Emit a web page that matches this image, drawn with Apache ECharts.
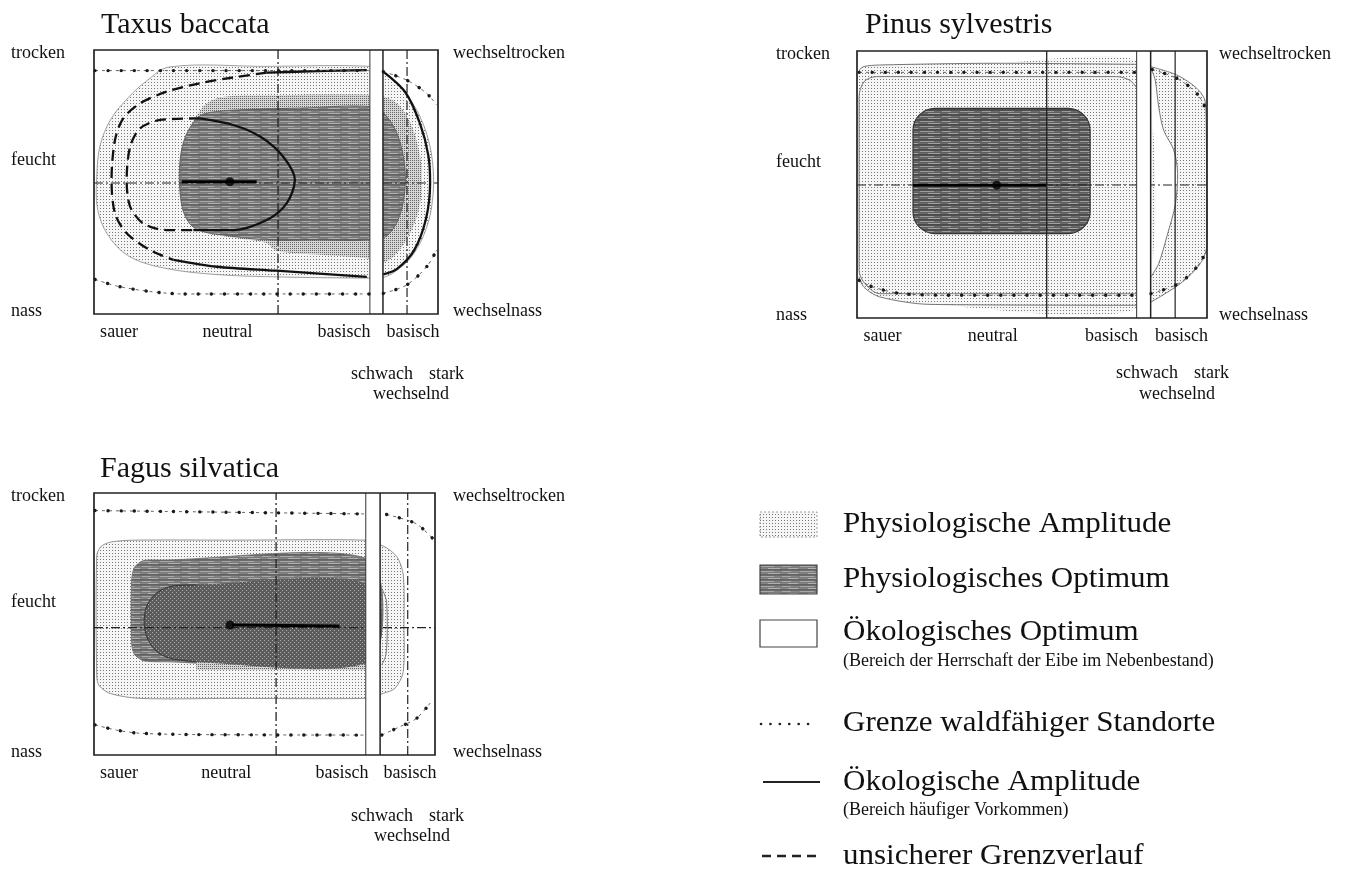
<!DOCTYPE html>
<html><head><meta charset="utf-8">
<script src="https://cdn.jsdelivr.net/npm/echarts@6/dist/echarts.min.js"></script>
<style>html,body{margin:0;padding:0;background:#fff}#c{width:1348px;height:871px}</style>
</head><body><div id="c"></div>
<script>
// ---------------- data (x: 0 sauer .. 100 stark wechselnd basisch, y: 0 nass .. 100 trocken) -------------
const titles = ['Taxus baccata', 'Pinus sylvestris', 'Fagus silvatica'];
const xTickPos = [7.3, 38.8, 72.7, 92.7];
const xTickLabels = ['sauer', 'neutral', 'basisch', 'basisch'];
const yTickPos = [98.6, 58.3, 1.1];
const yTickLabels = ['trocken', 'feucht', 'nass'];
const yRightPos = [98.6, 1.1];
const yRightLabels = ['wechseltrocken', 'wechselnass'];
const subLabels = ['schwach', 'stark', 'wechselnd'];

// structural lines per panel: [centre vertical, right vertical, horizontal, band from, band to]
const taxusAxes = [53.5, 91.0, 49.6, 80.2, 84.0];
const pinusAxes = [54.2, 90.9, 49.8, 79.9, 83.9];
const fagusAxes = [53.4, 92.0, 48.6, 79.7, 83.9];

// ---- Taxus baccata
const taxusAmplitude = [[22,93.6],[50,93.8],[81,93.8],[84,91.5],[89,86],[93.5,78],[97,67],[98.6,55],[98.4,43],[96.5,32],[92.5,22],[87.5,16],[84,13.8],[81,13.6],[55,14],[35,15],[20,17.5],[10,22],[4,30],[1,40],[0.8,52],[1.8,64],[5,74],[10,82],[15,88]];
const taxusMedium = [[30.3,76],[33,80],[38,82.3],[50,82.8],[81,83],[86,81.5],[90,77],[93,69],[95,58],[95.3,50],[94.5,40],[92,31],[88,23],[84,19.5],[80,21],[65,22.5],[53,24],[50,27],[40,29],[30,32.5],[26,45],[26,62],[28,71]];
const taxusOptimum = [[25,58],[26.5,67],[29.5,73.5],[32,75.8],[40,77.2],[60,78],[81,78.5],[85,75],[88.5,67],[90.4,55],[90.2,45],[88.5,36],[85,29.5],[80,28],[65,28],[51,28],[40,29.5],[30,32],[26.5,37],[25,46]];
const taxusEcoAmpTop = [[50.2,91.4],[65,92],[79.3,92.4]];
const taxusEcoAmpDash = [[50.2,91.4],[40.5,89.6],[30.8,87.4],[21.1,84.2],[13.4,79.8],[8.5,74.1],[6.1,65.9],[5.1,50.8],[6.1,38.1],[9.5,30.6],[16.3,24.2],[23.1,20.5]];
const taxusEcoAmpBottom = [[23.1,20.5],[35.7,17.9],[53.1,16.4],[79.3,14.1]];
const taxusEcoAmpRight = [[84.1,91.8],[90.5,84],[94.8,72],[97.2,60],[97.7,49.6],[96.5,36],[93,24],[88,17],[84.1,15]];
const taxusEcoOptDash = [[30.8,74.1],[19.2,73.5],[13.4,70.3],[10.5,63.4],[9.5,50.8],[10.5,40.7],[14.3,34.3],[21.1,31.8],[28.9,31.8]];
const taxusEcoOptSolid = [[30.8,74.1],[40.5,71.6],[48.3,67.2],[55,59.6],[58.4,50.8],[56,41.9],[50.2,35.6],[40.5,31.8],[28.9,31.8]];
const taxusLimitTop = [[0.3,92.2],[80,92.2]];
const taxusLimitTopRight = [[84.1,91.8],[90.9,88.6],[96.7,83.6],[99.6,79.2]];
const taxusLimitBottom = [[0.3,13.1],[6.6,10.6],[16.3,8.5],[26,7.6],[80,7.6]];
const taxusLimitBottomRight = [[84.1,7.8],[90.9,11],[96.7,17.9],[99.6,24.2]];
const taxusCentreBar = [[25.5,50.1],[47.3,50.1]];
const taxusCentre = [39.5, 50.1];

// ---- Pinus sylvestris
const pinusAmplitude = [[0.6,92.9],[2,94.2],[6.5,94.75],[40,95.4],[81,95],[81,4.75],[20.8,5.1],[6.5,7.9],[2,11.5],[0.6,15.4]];
const pinusAmplitudeRight = [[84,94.1],[91.4,91],[97.1,86],[99.5,81],[99.8,70.4],[100,27.9],[98.1,20.4],[92.4,12.9],[84,6],[84,15.4],[86.2,20.4],[88.5,30.4],[91,42.9],[91.6,54.1],[90.5,62.9],[87.6,70.4],[86.2,79.1],[85.2,89.1],[84,93.5]];
const pinusOuterTop = [[0.6,92.9],[2,94.2],[6.5,94.75],[40,95.4],[80,95]];
const pinusOuterBottom = [[0.6,15.4],[2,11.5],[6.5,7.9],[20.8,5.1],[80,4.75]];
const pinusInner = [[80,86],[78,89],[74.2,90.4],[40,90.4],[5.5,90.4],[2,88.5],[0.6,82.9],[0.6,17.9],[2.5,12.5],[6.5,9.1],[40,9.1],[80,9.1]];
const pinusOuterRight = [[84,94.1],[91.4,91],[97.1,86],[99.5,81],[99.8,70.4],[100,27.9],[98.1,20.4],[92.4,12.9],[84,6]];
const pinusWavy = [[84,93.5],[85.2,89.1],[86.2,79.1],[87.6,70.4],[90.5,62.9],[91.6,54.1],[91,42.9],[88.5,30.4],[86.2,20.4],[84,15.4]];
const pinusOptimum = [[16,78.5],[66.6,31.6]];
const pinusLimitTop = [[0.6,92],[80,92]];
const pinusLimitTopRight = [[84.3,93.1],[91.4,89.75],[97.1,84.1],[99.6,78.5]];
const pinusLimitBottom = [[0.6,14.1],[4.5,11.6],[13,9.1],[30,8.5],[80,8.5]];
const pinusLimitBottomRight = [[84,9.1],[91.9,12.9],[97.1,19.1],[99.8,24.75]];
const pinusCentreBar = [[16,49.75],[54,49.75]];
const pinusCentre = [39.9, 49.75];

// ---- Fagus silvatica
const fagusAmplitude = [[0.8,76],[2,79.5],[5,81.3],[12,82],[40,82],[79.7,82],[82,80.5],[84.8,79.8],[88.8,75.7],[90.7,68.7],[90.9,49.6],[90.7,31.8],[88.3,25.5],[84.8,23.5],[82,22.5],[79.7,21.6],[40,21.6],[13.5,21.6],[4.7,23.5],[1.5,26.5],[0.8,30]];
const fagusOptimum = [[11,66],[11.8,71.5],[14.5,74.2],[20,74.4],[81,74.4],[81,35.6],[20,35.6],[14.5,36],[11.8,38.5],[11,43]];
const fagusOptBand = [[30,35.6],[81,35.6],[81,32.4],[30,32.4]];
const fagusInner = [[14.7,50.9],[15.5,57],[18.5,62],[23,64.5],[27.2,64.9],[81,64.9],[81,35.6],[27.2,35.6],[22,37],[18,40],[15.5,45]];
const fagusInnerEdge = [[30,64.9],[23,64.5],[18.5,62],[15.5,57],[14.7,50.9],[15.5,45],[18,40],[22,37],[30,35.6]];
const fagusSmallRight = [[84.4,63.6],[85.8,58.5],[86,48.4],[85.6,38.2],[84.4,34.4]];
const fagusLimitTop = [[0.3,93.3],[80,92]];
const fagusLimitTopRight = [[85.8,91.8],[91.7,89.7],[95.1,87.8],[99.3,82.7]];
const fagusLimitBottom = [[0.3,11.5],[6.6,9.5],[13.5,8.3],[30,7.8],[80,7.6]];
const fagusLimitBottomRight = [[84.4,7.6],[89.7,10.8],[94.6,14],[99.3,21]];
const fagusCentreBar = [[40.5,49.6],[72,49.2]];
const fagusCentre = [39.9, 49.6];

// ---------------- layout & styles -------------
const GRIDS = [
  {left: 94, top: 50, width: 344, height: 264},
  {left: 857, top: 51, width: 350, height: 267},
  {left: 94, top: 493, width: 341, height: 262}
];
const LEFT_MARGIN = [83, 81, 83];
const RIGHT_MARGIN = [15, 12, 18];
const TITLE_POS = [[101, 10], [865, 10], [100, 454]];
const SUB_POS = [ // [schwachX, starkX, row1Y, wechselndX, row2Y]
  [351, 429, 375, 373, 395],
  [1116, 1194, 374, 1139, 395],
  [351, 429, 817, 374, 837]
];
const SERIF = '"Liberation Serif", "Times New Roman", serif';
const INK = '#111';

function pat(w, h, draw) {
  const c = document.createElement('canvas'); c.width = w; c.height = h;
  draw(c.getContext('2d')); return {image: c, repeat: 'repeat'};
}
const lightFill = pat(3, 3, g => { g.fillStyle = '#f6f6f6'; g.fillRect(0,0,3,3); g.fillStyle = '#767676'; g.fillRect(1,1,1,1); });
const mediumFill = pat(2, 2, g => { g.fillStyle = '#d6d6d6'; g.fillRect(0,0,2,2); g.fillStyle = '#666'; g.fillRect(0,0,1,1); });
function streaks(base, dark1, light1, mid, light2, dark2) {
  return pat(40, 5, g => {
    g.fillStyle = base; g.fillRect(0,0,40,5);
    g.fillStyle = dark1; g.fillRect(0,0,40,1);
    g.fillStyle = light1; g.fillRect(0,1,14,1); g.fillRect(22,1,9,1);
    g.fillStyle = mid; g.fillRect(0,2,40,1);
    g.fillStyle = light2; g.fillRect(8,3,12,1); g.fillRect(28,3,10,1);
    g.fillStyle = dark2; g.fillRect(0,4,40,1);
  });
}
const darkFill = streaks('#858585', '#6c6c6c', '#a8a8a8', '#7a7a7a', '#b0b0b0', '#626262');
const darkFill2 = streaks('#6c6c6c', '#505050', '#9c9c9c', '#5e5e5e', '#a2a2a2', '#4a4a4a');
const dottedDark = pat(4, 4, g => { g.fillStyle = '#5c5c5c'; g.fillRect(0,0,4,4); g.fillStyle = '#acacac'; g.fillRect(0,0,1,1); g.fillRect(2,2,1,1); });

const DASHDOT = [9, 3, 2, 3];
const series = [];

function poly(gi, pts, fill, stroke, lw, smooth, z) {
  series.push({type: 'custom', xAxisIndex: gi, yAxisIndex: gi * 2, coordinateSystem: 'cartesian2d',
    clip: true, silent: true, z: z, animation: false, data: pts,
    renderItem: function (params, api) {
      if (params.dataIndex !== 0) return;
      const points = pts.map(p => api.coord(p));
      return {type: 'polygon', shape: {points: points, smooth: smooth},
        style: {fill: fill, stroke: stroke || null, lineWidth: lw || 0}};
    }});
}
function roundRect(gi, pts, fill, stroke, lw, r, z) {
  series.push({type: 'custom', xAxisIndex: gi, yAxisIndex: gi * 2, coordinateSystem: 'cartesian2d',
    clip: true, silent: true, z: z, animation: false, data: pts,
    renderItem: function (params, api) {
      if (params.dataIndex !== 0) return;
      const a = api.coord(pts[0]), b = api.coord(pts[1]);
      return {type: 'rect', shape: {x: Math.min(a[0], b[0]), y: Math.min(a[1], b[1]), width: Math.abs(b[0] - a[0]), height: Math.abs(b[1] - a[1]), r: r},
        style: {fill: fill, stroke: stroke, lineWidth: lw}};
    }});
}
function line(gi, pts, ls, smooth, z) {
  series.push({type: 'line', xAxisIndex: gi, yAxisIndex: gi * 2, data: pts, smooth: smooth || false,
    symbol: 'none', silent: true, z: z, animation: false, clip: true,
    lineStyle: Object.assign({color: INK, width: 1}, ls)});
}
function limit(gi, pts, z) {
  line(gi, pts, {color: '#555', width: 0.9, type: [3, 4]}, 0.3, z);
  line(gi, pts, {color: '#1a1a1a', width: 3.4, type: [0.1, 13], cap: 'round'}, 0.3, z + 0.1);
}
function structure(gi, ax, vSolid) {
  const [cv, rv, h, b1, b2] = ax;
  line(gi, [[cv, 0], [cv, 100]], {color: '#222', width: 1.3, type: vSolid ? 'solid' : DASHDOT}, false, 6);
  line(gi, [[rv, 0], [rv, 100]], {color: '#222', width: 1.2, type: vSolid ? 'solid' : DASHDOT}, false, 6);
  line(gi, [[0, h], [100, h]], {color: '#222', width: 1.1, type: DASHDOT}, false, 6);
  series.push({type: 'custom', xAxisIndex: gi, yAxisIndex: gi * 2, coordinateSystem: 'cartesian2d',
    clip: true, silent: true, z: 8, animation: false, data: [[b1, 0], [b2, 100]],
    renderItem: function (params, api) {
      if (params.dataIndex !== 0) return;
      const a = api.coord([b1, 100]), b = api.coord([b2, 0]);
      return {type: 'group', children: [
        {type: 'rect', shape: {x: a[0], y: a[1], width: b[0] - a[0], height: b[1] - a[1]}, style: {fill: '#fff'}},
        {type: 'line', shape: {x1: a[0], y1: a[1], x2: a[0], y2: b[1]}, style: {stroke: '#333', lineWidth: 1}},
        {type: 'line', shape: {x1: b[0], y1: a[1], x2: b[0], y2: b[1]}, style: {stroke: '#222', lineWidth: 1.5}}
      ]};
    }});
  series.push({type: 'custom', xAxisIndex: gi, yAxisIndex: gi * 2, coordinateSystem: 'cartesian2d',
    clip: false, silent: true, z: 12, animation: false, data: [[0, 0], [100, 100]],
    renderItem: function (params, api) {
      if (params.dataIndex !== 0) return;
      const a = api.coord([0, 100]), b = api.coord([100, 0]);
      return {type: 'rect', shape: {x: a[0], y: a[1], width: b[0] - a[0], height: b[1] - a[1]}, style: {fill: null, stroke: '#222', lineWidth: 1.7}};
    }});
}
function centre(gi, bar, pt) {
  line(gi, bar, {color: '#000', width: 3}, false, 10);
  series.push({type: 'scatter', xAxisIndex: gi, yAxisIndex: gi * 2, data: [pt], symbolSize: 9, silent: true,
    z: 11, animation: false, itemStyle: {color: '#000'}});
}
const THICK = {color: '#111', width: 2.3};
const DASH = {color: '#111', width: 2.3, type: [11, 6]};
const THIN = {color: '#777', width: 1};

// ---- Taxus
poly(0, taxusAmplitude, lightFill, '#8a8a8a', 0.8, 0.35, 1);
poly(0, taxusMedium, mediumFill, null, 0, 0.35, 2);
poly(0, taxusOptimum, darkFill, '#555', 0.8, 0.35, 3);
line(0, taxusEcoAmpTop, THICK, 0.3, 9);
line(0, taxusEcoAmpDash, DASH, 0.3, 9);
line(0, taxusEcoAmpBottom, THICK, 0.3, 9);
line(0, taxusEcoAmpRight, THICK, 0.3, 9);
line(0, taxusEcoOptDash, DASH, 0.3, 9);
line(0, taxusEcoOptSolid, THICK, 0.3, 9);
structure(0, taxusAxes, false);
limit(0, taxusLimitTop, 9); limit(0, taxusLimitTopRight, 9); limit(0, taxusLimitBottom, 9); limit(0, taxusLimitBottomRight, 9);
centre(0, taxusCentreBar, taxusCentre);

// ---- Pinus
poly(1, pinusAmplitude, lightFill, null, 0, 0.2, 1);
poly(1, pinusAmplitudeRight, lightFill, null, 0, 0.2, 1);
roundRect(1, pinusOptimum, darkFill2, '#333', 1.2, 22, 3);
line(1, pinusOuterTop, THIN, 0.3, 5); line(1, pinusOuterBottom, THIN, 0.3, 5);
line(1, pinusInner, THIN, 0.3, 5); line(1, pinusOuterRight, THIN, 0.3, 5); line(1, pinusWavy, THIN, 0.3, 5);
structure(1, pinusAxes, true);
limit(1, pinusLimitTop, 9); limit(1, pinusLimitTopRight, 9); limit(1, pinusLimitBottom, 9); limit(1, pinusLimitBottomRight, 9);
centre(1, pinusCentreBar, pinusCentre);

// ---- Fagus
poly(2, fagusAmplitude, lightFill, '#8a8a8a', 0.9, 0.3, 1);
poly(2, fagusOptimum, darkFill, '#666', 0.8, 0.25, 3);
poly(2, fagusOptBand, mediumFill, null, 0, 0, 3);
poly(2, fagusInner, dottedDark, null, 0, 0.3, 4);
line(2, fagusInnerEdge, {color: '#333', width: 1}, 0.3, 5);
line(2, fagusSmallRight, THIN, 0.3, 9);
structure(2, fagusAxes, false);
limit(2, fagusLimitTop, 9); limit(2, fagusLimitTopRight, 9); limit(2, fagusLimitBottom, 9); limit(2, fagusLimitBottomRight, 9);
centre(2, fagusCentreBar, fagusCentre);

// ---------------- axes -------------
const labelStyle = {fontFamily: SERIF, fontSize: 18, color: INK};
const xAxis = [], yAxis = [];
GRIDS.forEach((g, i) => {
  xAxis.push({type: 'value', gridIndex: i, min: 0, max: 100, axisLine: {show: false}, axisTick: {show: false}, splitLine: {show: false},
    axisLabel: Object.assign({customValues: xTickPos, margin: 9, formatter: v => xTickLabels[xTickPos.indexOf(v)]}, labelStyle)});
  yAxis.push({type: 'value', gridIndex: i, min: 0, max: 100, axisLine: {show: false}, axisTick: {show: false}, splitLine: {show: false},
    axisLabel: Object.assign({customValues: yTickPos, margin: LEFT_MARGIN[i], align: 'left', formatter: v => yTickLabels[yTickPos.indexOf(v)]}, labelStyle)});
  yAxis.push({type: 'value', gridIndex: i, position: 'right', min: 0, max: 100, axisLine: {show: false}, axisTick: {show: false}, splitLine: {show: false},
    axisLabel: Object.assign({customValues: yRightPos, margin: RIGHT_MARGIN[i], align: 'left', formatter: v => yRightLabels[yRightPos.indexOf(v)]}, labelStyle)});
});

// ---------------- texts & legend -------------
const graphic = [];
SUB_POS.forEach(p => {
  graphic.push({type: 'text', left: p[0], top: p[2] - 10, style: {text: subLabels[0], font: '18px ' + SERIF, fill: INK}});
  graphic.push({type: 'text', left: p[1], top: p[2] - 10, style: {text: subLabels[1], font: '18px ' + SERIF, fill: INK}});
  graphic.push({type: 'text', left: p[3], top: p[4] - 10, style: {text: subLabels[2], font: '18px ' + SERIF, fill: INK}});
});
const legendMain = ['Physiologische Amplitude', 'Physiologisches Optimum', 'Ökologisches Optimum', 'Grenze waldfähiger Standorte', 'Ökologische Amplitude', 'unsicherer Grenzverlauf'];
const legendSub = ['(Bereich der Herrschaft der Eibe im Nebenbestand)', '(Bereich häufiger Vorkommen)'];
const LEG_X = 843, LEG_MAIN_Y = [524, 579, 632, 723, 782, 856], LEG_SUB_Y = [661, 810];
legendMain.forEach((t, i) => graphic.push({type: 'text', x: LEG_X, y: LEG_MAIN_Y[i], scaleX: 1.07,
  style: {text: t, font: '29px ' + SERIF, fill: INK, verticalAlign: 'middle', align: 'left'}}));
legendSub.forEach((t, i) => graphic.push({type: 'text', x: LEG_X, y: LEG_SUB_Y[i],
  style: {text: t, font: '18px ' + SERIF, fill: INK, verticalAlign: 'middle', align: 'left'}}));
graphic.push({type: 'rect', shape: {x: 760, y: 512, width: 57, height: 25}, style: {fill: lightFill, stroke: '#999', lineWidth: 1, lineDash: [2, 2]}});
graphic.push({type: 'rect', shape: {x: 760, y: 565, width: 57, height: 29}, style: {fill: darkFill, stroke: '#444', lineWidth: 1.2}});
graphic.push({type: 'rect', shape: {x: 760, y: 620, width: 57, height: 27}, style: {fill: '#fff', stroke: '#444', lineWidth: 1.2}});
graphic.push({type: 'line', shape: {x1: 761, y1: 724, x2: 817, y2: 724}, style: {stroke: '#222', lineWidth: 2.6, lineDash: [0.1, 9.3], lineCap: 'round'}});
graphic.push({type: 'line', shape: {x1: 763, y1: 782, x2: 820, y2: 782}, style: {stroke: '#222', lineWidth: 2}});
graphic.push({type: 'line', shape: {x1: 762, y1: 856, x2: 818, y2: 856}, style: {stroke: '#222', lineWidth: 2.6, lineDash: [9, 6]}});

const chart = echarts.init(document.getElementById('c'), null, {renderer: 'canvas'});
chart.setOption({
  backgroundColor: '#fff',
  animation: false,
  title: titles.map((t, i) => ({text: t, left: TITLE_POS[i][0], top: TITLE_POS[i][1], padding: 0,
    textStyle: {fontFamily: SERIF, fontSize: 30, fontWeight: 'normal', color: INK}})),
  grid: GRIDS.map(g => Object.assign({containLabel: false}, g)),
  xAxis: xAxis,
  yAxis: yAxis,
  series: series,
  graphic: graphic
});
</script></body></html>
